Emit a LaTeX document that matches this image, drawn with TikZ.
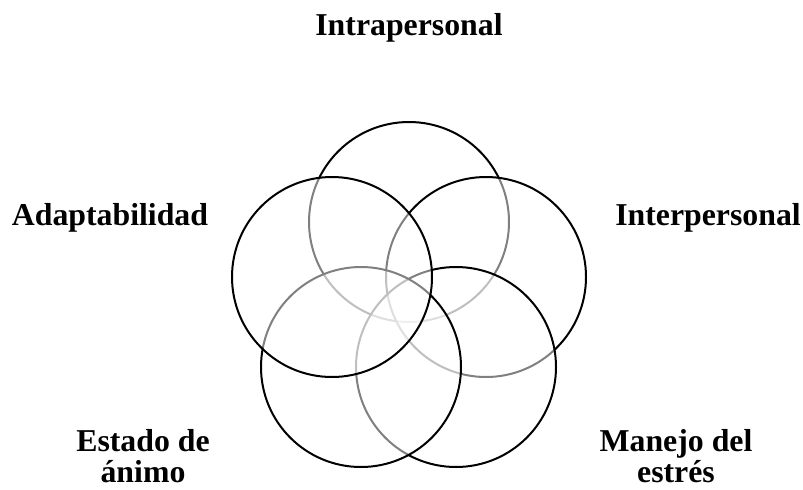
\documentclass[tikz,border=0pt]{standalone}
\usepackage{fontspec}
\setmainfont{Liberation Serif}
\tikzset{
	circulo/.style={circle, draw, line width=1.5pt, fill=white, fill opacity=0.5, minimum size=150pt, inner sep=0pt}, % Circulos semitransparentes
	etiqueta/.style={font=\fontsize{23.85}{23.3}\selectfont\bfseries, inner sep=0pt, align=center} % Texto de cada area
}

\begin{document}
\begin{tikzpicture}[x=0.75pt, y=-0.75pt]
	\useasboundingbox (0,0) rectangle (803,489);
	% circulos, del fondo hacia el frente
	\node[circulo] (c1) at (409,222) {};
	\node[circulo] (c2) at (486,277) {};
	\node[circulo] (c3) at (456,367) {};
	\node[circulo] (c4) at (361,367) {};
	\node[circulo] (c5) at (332,277) {};
	% etiquetas
	\node[etiqueta, anchor=base] (t1) at (409,36) {Intrapersonal};
	\node[etiqueta, anchor=base] (t2) at (708,225) {Interpersonal};
	\node[etiqueta, anchor=north] (t3) at (676,429) {Manejo del\\estrés};
	\node[etiqueta, anchor=north] (t4) at (143,429) {Estado de\\ánimo};
	\node[etiqueta, anchor=base] (t5) at (110,225) {Adaptabilidad};
\end{tikzpicture}
\end{document}
